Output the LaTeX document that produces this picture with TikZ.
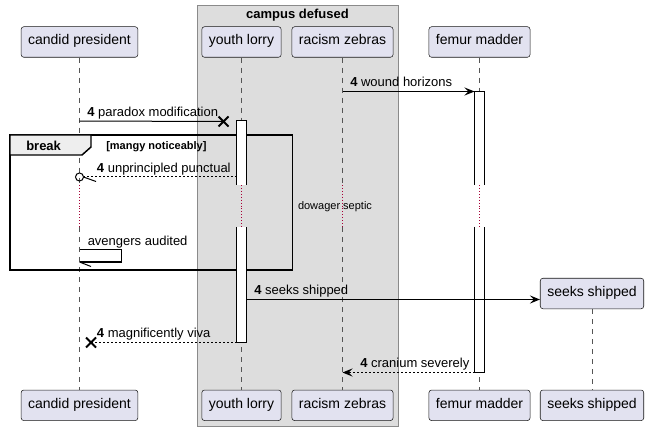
\documentclass[tikz,border=0pt]{standalone}
\usepackage{fontspec}
\setmainfont{Liberation Sans}
\usetikzlibrary{arrows.meta}
\definecolor{partfill}{HTML}{E2E2F0}
\definecolor{partline}{HTML}{181818}
\definecolor{boxfill}{HTML}{DDDDDD}
\definecolor{boxline}{HTML}{8A8A8A}
\definecolor{hdrfill}{HTML}{EEEEEE}
\definecolor{lifegray}{HTML}{555555}
\definecolor{delayred}{HTML}{A80036}
\tikzset{
  partbox/.style={draw=partline, fill=partfill, rounded corners=2pt, line width=0.4pt,
    minimum height=22.9pt, inner xsep=5.25pt, inner ysep=0pt,
    text height=7pt, text depth=2.8pt, font=\fontsize{10.5}{12}\selectfont},
  lifeline/.style={draw=lifegray, line width=0.4pt, dash pattern=on 3.75pt off 3.75pt},
  delayline/.style={draw=delayred, line width=0.6pt, dash pattern=on 0.6pt off 1.6pt},
  actbar/.style={draw=black, fill=white, line width=0.75pt},
  frame/.style={draw=black, line width=1.1pt},
  msg/.style={draw=black, line width=0.75pt},
  reply/.style={msg, dash pattern=on 1.5pt off 1.5pt},
  headtip/.style={-{Stealth[length=7.5pt,width=6pt,inset=3pt]}},
  lbl/.style={anchor=base west, inner sep=0pt, font=\fontsize{9.75}{11}\selectfont},
  xmark/.style={draw=black, line width=1.5pt}
}
\def\crossat(#1){\draw[xmark] ([shift={(-5,-5)}]#1) -- ([shift={(5,5)}]#1) ([shift={(-5,5)}]#1) -- ([shift={(5,-5)}]#1);}

\begin{document}
\begin{tikzpicture}[x=0.75pt, y=-0.75pt]
	%%%%% START %%%%%
	\useasboundingbox (0,0) rectangle (650,431);

	% campus defused box
	\draw[fill=boxfill, draw=boxline, line width=0.75pt] (197,6) rectangle (398,426);
	\node[anchor=base, inner sep=0pt, font=\bfseries\fontsize{9.75}{11}\selectfont] (boxtitle) at (297.5,18.8) {campus defused};

	% participants
	\node[partbox] (cp-top) at (79.5,42) {candid president};
	\node[partbox] (yl-top) at (241.5,42) {youth lorry};
	\node[partbox] (rz-top) at (342.5,42) {racism zebras};
	\node[partbox] (fm-top) at (479.5,42) {femur madder};

	\node[partbox] (cp-bot) at (79.5,405.3) {candid president};
	\node[partbox] (yl-bot) at (241.5,405.3) {youth lorry};
	\node[partbox] (rz-bot) at (342.5,405.3) {racism zebras};
	\node[partbox] (fm-bot) at (479.5,405.3) {femur madder};
	\node[partbox] (ss-bot) at (592,405.3) {seeks shipped};

	% lifelines, dotted through the delay
	\foreach \p in {cp,yl,rz,fm} {
		\coordinate (\p-d1) at (\p-top.south |- 0,185);
		\coordinate (\p-d2) at (\p-top.south |- 0,227);
		\draw[lifeline] (\p-top.south) -- (\p-d1);
		\draw[delayline] (\p-d1) -- (\p-d2);
		\draw[lifeline] (\p-d2) -- (\p-bot.north);
	}

	% break
	\draw[frame] (10,135) rectangle (292.5,270);
	\draw[frame, fill=hdrfill] (10,135) -- (91,135) -- (91,147) -- (82,155) -- (10,155) -- cycle;
	\node[anchor=base west, inner sep=0pt, font=\bfseries\fontsize{9.75}{11}\selectfont] (brk) at (26,150.5) {break};
	\node[anchor=base west, inner sep=0pt, font=\bfseries\fontsize{8.25}{10}\selectfont] (cond) at (106,150) {[mangy noticeably]};

	% activations
	\draw[actbar] (236.5,185) -- (236.5,121) -- (246.5,121) -- (246.5,185);
	\draw[actbar] (236.5,227) -- (236.5,342.5) -- (246.5,342.5) -- (246.5,227);
	\draw[actbar] (474.5,185) -- (474.5,91.5) -- (484.5,91.5) -- (484.5,185);
	\draw[actbar] (474.5,227) -- (474.5,372.5) -- (484.5,372.5) -- (484.5,227);

	% wound horizons
	\coordinate (wh-from) at (rz-top.south |- 0,91.5);
	\coordinate (wh-to) at (474.5,91.5);
	\draw[msg, headtip] (wh-from) -- (wh-to);
	\node[lbl] (wh-lbl) at (350,87) {\textbf{4} wound horizons};

	% paradox modification
	\coordinate (pm-from) at (cp-top.south |- 0,121);
	\coordinate (pm-lost) at (223.5,121.5);
	\draw[msg] (pm-from) -- (pm-lost);
	\crossat(pm-lost)
	\node[lbl] (pm-lbl) at (87,116.7) {\textbf{4} paradox modification};

	% unprincipled punctual
	\coordinate (up-from) at (236.5,177);
	\coordinate (up-to) at (cp-top.south |- 0,177);
	\draw[reply, shorten >=3pt] (up-from) -- (up-to);
	\draw[msg] (up-to) circle (4);
	\draw[msg] ([xshift=3pt]up-to) -- ++(12.5,4.5);
	\node[lbl] (up-lbl) at (96.7,172.5) {\textbf{4} unprincipled punctual};

	% dowager septic
	\node[inner sep=0pt, font=\fontsize{8.25}{10}\selectfont] (delay) at (335,207) {dowager septic};

	% avengers audited
	\coordinate (aa-top) at (cp-top.south |- 0,249.5);
	\coordinate (aa-bot) at (cp-top.south |- 0,262);
	\draw[msg] (aa-top) -- ++(42,0) |- (aa-bot);
	\draw[msg] (aa-bot) -- ++(11.5,4.5);
	\node[lbl] (aa-lbl) at (87.5,245.3) {avengers audited};

	% seeks shipped
	\node[partbox] (ss-top) at (592,293.5) {seeks shipped};
	\draw[lifeline] (ss-top.south) -- (ss-bot.north);
	\coordinate (ss-from) at (246.5,299.5);
	\draw[msg, headtip] (ss-from) -- (ss-top.west |- ss-from);
	\node[lbl] (ss-lbl) at (254,294.8) {\textbf{4} seeks shipped};

	% magnificently viva
	\coordinate (mv-from) at (236.5,342.5);
	\coordinate (mv-lost) at (91,342.5);
	\draw[reply] (mv-from) -- (mv-lost);
	\crossat(mv-lost)
	\node[lbl] (mv-lbl) at (96.7,337.8) {\textbf{4} magnificently viva};

	% cranium severely
	\coordinate (cs-from) at (474.5,372.5);
	\coordinate (cs-to) at (rz-top.south |- 0,372.5);
	\draw[reply, headtip] (cs-from) -- (cs-to);
	\node[lbl] (cs-lbl) at (360,367.8) {\textbf{4} cranium severely};

	%%%%% END %%%%%
\end{tikzpicture}
\end{document}
